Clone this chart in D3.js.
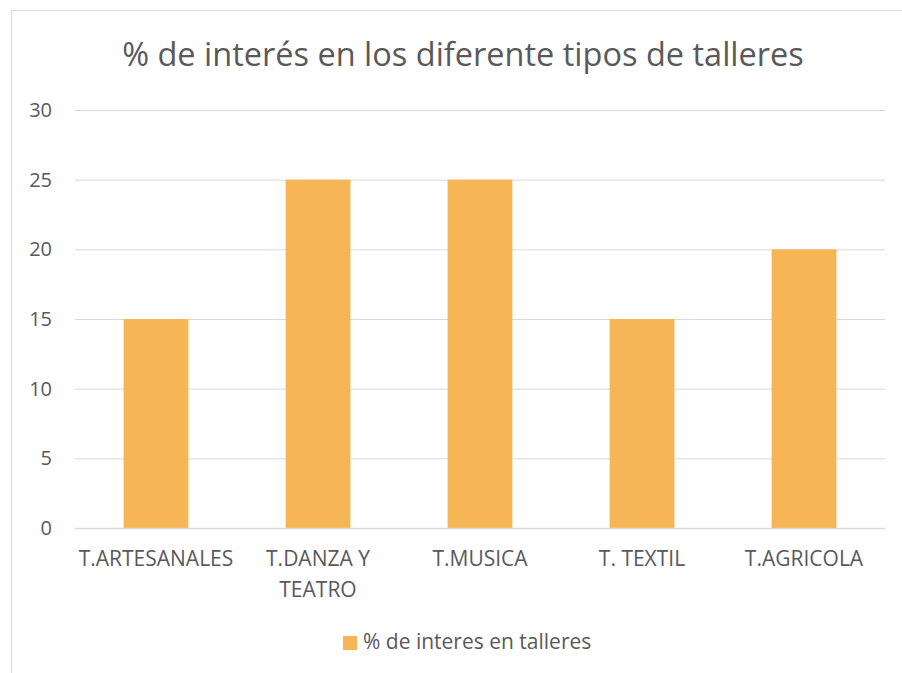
<!DOCTYPE html>
<html>
<head>
<meta charset="utf-8">
<script src="https://cdn.jsdelivr.net/npm/d3@7"></script>
<style>
  body { margin: 0; background: #fff; }
  svg { display: block; font-family: "Open Sans", sans-serif; }
</style>
</head>
<body>
<div id="chart"></div>
<script>
const categories = ["T.ARTESANALES", "T.DANZA Y TEATRO", "T.MUSICA", "T. TEXTIL", "T.AGRICOLA"];
const labelLines = [["T.ARTESANALES"], ["T.DANZA Y", "TEATRO"], ["T.MUSICA"], ["T. TEXTIL"], ["T.AGRICOLA"]];
const values = [15, 25, 25, 15, 20];
const yTicks = [0, 5, 10, 15, 20, 25, 30];
const title = "% de interés en los diferente tipos de talleres";
const seriesName = "% de interes en talleres";

const width = 902;
const height = 673;
const textColor = "#595959";
const barColor = "#F7B655";

const svg = d3.select("#chart")
    .append("svg")
    .attr("width", width)
    .attr("height", height);

// chart border (only top & left visible, the rest is cut off)
svg.append("rect")
    .attr("x", 11.5)
    .attr("y", 10.5)
    .attr("width", 1000)
    .attr("height", 1000)
    .attr("fill", "none")
    .attr("stroke", "#d9d9d9");

const usable = { left: 75, right: 885, top: 110, bottom: 528 };

const x = d3.scaleBand()
    .domain(categories)
    .range([usable.left, usable.right])
    .paddingInner(0.6)
    .paddingOuter(0.3);

const y = d3.scaleLinear()
    .domain([0, 30])
    .range([usable.bottom, usable.top]);

// title
svg.append("text")
    .attr("x", 463)
    .attr("y", 66)
    .attr("text-anchor", "middle")
    .attr("fill", textColor)
    .style("font-size", "32.5px")
    .text(title);

// gridlines
const grid = svg.append("g")
    .attr("transform", `translate(${usable.left},0)`)
    .call(d3.axisLeft(y).tickValues(yTicks).tickSize(-(usable.right - usable.left)).tickFormat(""));
grid.select(".domain").remove();
grid.selectAll("line").attr("stroke", "#d9d9d9").attr("stroke-width", 1);

// y labels
const yAxis = svg.append("g")
    .attr("transform", `translate(${usable.left},0)`)
    .call(d3.axisLeft(y).tickValues(yTicks).tickSize(0).tickPadding(23));
yAxis.select(".domain").remove();
yAxis.selectAll("text")
    .attr("fill", textColor)
    .style("font-size", "20px")
    .style("font-family", "Open Sans, sans-serif");

// bars
svg.append("g")
    .selectAll("rect")
    .data(values)
    .join("rect")
    .attr("x", (d, i) => x(categories[i]))
    .attr("y", d => y(d))
    .attr("width", x.bandwidth())
    .attr("height", d => y(0) - y(d))
    .attr("fill", barColor);

// x axis baseline
svg.append("line")
    .attr("x1", usable.left)
    .attr("x2", usable.right)
    .attr("y1", y(0) + 0.5)
    .attr("y2", y(0) + 0.5)
    .attr("stroke", "#d9d9d9")
    .attr("stroke-width", 1.5);

// x labels
const xl = svg.append("g")
    .selectAll("text")
    .data(categories)
    .join("text")
    .attr("x", d => x(d) + x.bandwidth() / 2)
    .attr("y", 566)
    .attr("text-anchor", "middle")
    .attr("fill", textColor)
    .style("font-size", "21px");
xl.each(function (d, i) {
    const t = d3.select(this);
    labelLines[i].forEach((line, j) => {
        t.append("tspan")
            .attr("x", x(d) + x.bandwidth() / 2)
            .attr("dy", j === 0 ? 0 : 31)
            .text(line);
    });
});

// legend
const legend = svg.append("g").attr("transform", "translate(343,636)");
legend.append("rect")
    .attr("width", 14)
    .attr("height", 14)
    .attr("fill", barColor);
legend.append("text")
    .attr("x", 20)
    .attr("y", 13)
    .attr("fill", textColor)
    .style("font-size", "21px")
    .text(seriesName);
</script>
</body>
</html>
